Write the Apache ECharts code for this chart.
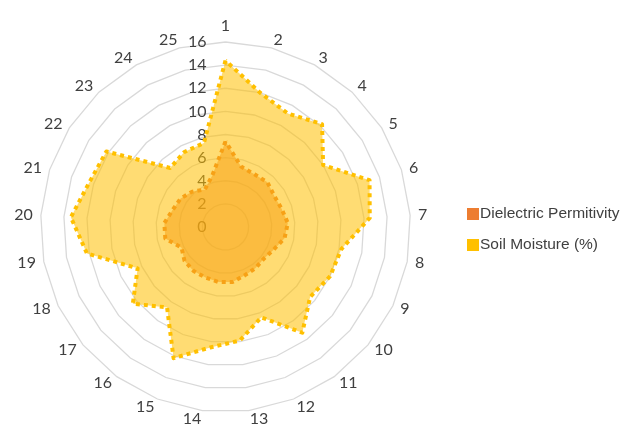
<!DOCTYPE html>
<html>
<head>
<meta charset="utf-8">
<script src="https://cdn.jsdelivr.net/npm/echarts@6/dist/echarts.min.js"></script>
<style>html,body{margin:0;padding:0;background:#fff;}#chart{width:636px;height:424px;}</style>
</head>
<body>
<div id="chart"></div>
<script>
// Categories (clockwise from top)
var categories = ['1','2','3','4','5','6','7','8','9','10','11','12','13','14','15','16','17','18','19','20','21','22','23','24','25'];
var seriesNames = ['Dielectric Permitivity', 'Soil Moisture (%)'];
var dielectric = [7.4,5.4,5.2,5.3,5.0,5.1,5.4,5.2,4.6,4.3,4.4,4.5,4.8,4.8,4.7,4.7,4.6,4.2,5.3,5.3,4.8,4.6,4.2,3.7,4.6];
var soilMoisture = [14.4,12.0,11.2,12.2,10.0,13.1,12.5,10.2,10.0,9.5,11.3,8.4,9.9,10.5,12.2,8.6,10.4,8.4,12.2,13.4,12.4,12.2,7.0,7.4,7.5];
var tickLabels = ['0','2','4','6','8','10','12','14','16'];
var axisMin = 0, axisMax = 16;

// ECharts radar runs counter-clockwise; reorder so categories go clockwise.
function clockwise(arr) { return [arr[0]].concat(arr.slice(1).reverse()); }

var txt = '#404040';
var indicators = clockwise(categories).map(function (c, i) {
  var o = { name: c, min: axisMin, max: axisMax };
  if (i === 0) {
    o.axisLabel = { show: true, color: txt, fontFamily: 'Lato', fontSize: 16, margin: 19,
      formatter: function (v) { return tickLabels[Math.round(v / 2)] || ''; } };
  }
  return o;
});

var chart = echarts.init(document.getElementById('chart'), null, { renderer: 'canvas' });
chart.setOption({
  animation: false,
  backgroundColor: '#fff',
  legend: {
    orient: 'vertical', left: 462, top: 201, itemGap: 15, itemWidth: 12, itemHeight: 12,
    icon: 'rect',
    textStyle: { color: txt, fontFamily: 'Liberation Sans', fontSize: 15.5, padding: [0, 0, 0, -4] },
    data: seriesNames
  },
  radar: {
    center: [225.5, 227],
    radius: 185,
    startAngle: 90,
    splitNumber: 8,
    shape: 'polygon',
    indicator: indicators,
    axisName: { color: txt, fontFamily: 'Lato', fontSize: 16 },
    nameGap: 8,
    axisLine: { show: false },
    axisTick: { show: false },
    axisLabel: { show: false },
    splitLine: { lineStyle: { color: '#d9d9d9', width: 1.3 } },
    splitArea: { show: false }
  },
  series: [{
    type: 'radar',
    symbol: 'none',
    data: [
      { name: seriesNames[0], value: clockwise(dielectric),
        itemStyle: { color: '#ED7D31' },
        lineStyle: { color: '#ED7D31', width: 4, type: [4, 4] },
        areaStyle: { color: 'rgba(237,125,49,0.55)', opacity: 1 } },
      { name: seriesNames[1], value: clockwise(soilMoisture),
        itemStyle: { color: '#FFC000' },
        lineStyle: { color: '#FFC000', width: 4, type: [4, 4] },
        areaStyle: { color: 'rgba(255,192,0,0.55)', opacity: 1 } }
    ]
  }]
});
</script>
</body>
</html>
